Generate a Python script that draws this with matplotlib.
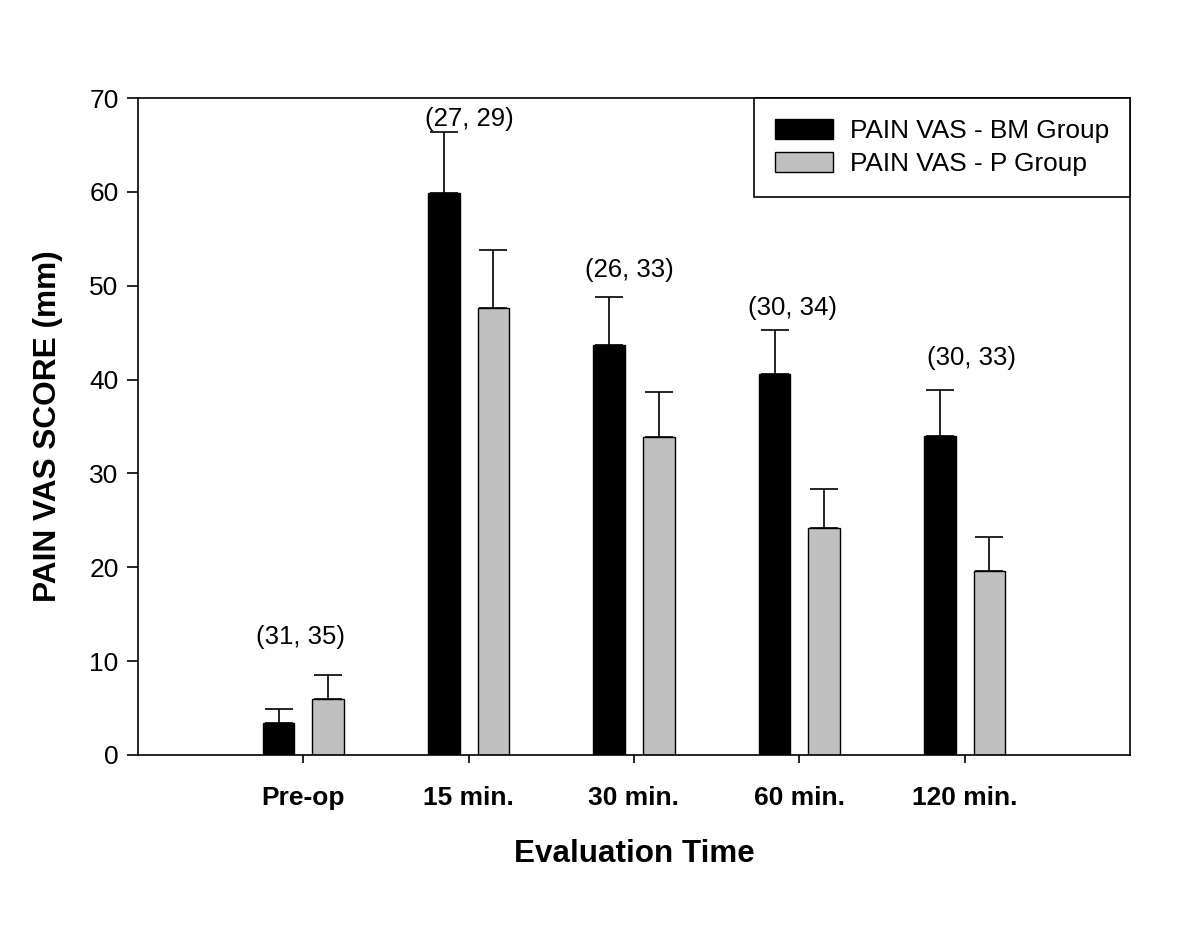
import matplotlib
matplotlib.use("Agg")
import matplotlib.pyplot as plt
import numpy as np

plt.rcParams['font.family'] = ['Liberation Sans', 'DejaVu Sans']

times = ["Pre-op", "15 min.", "30 min.", "60 min.", "120 min."]
bm_mean = [3.4, 59.9, 43.7, 40.6, 34.0]
bm_err = [1.5, 6.5, 5.1, 4.7, 4.9]
p_mean = [6.0, 47.6, 33.9, 24.2, 19.6]
p_err = [2.5, 6.2, 4.8, 4.1, 3.6]
n_labels = ["(31, 35)", "(27, 29)", "(26, 33)", "(30, 34)", "(30, 33)"]
label_x = [0.98, 2.006, 2.97, 3.96, 5.04]
label_y = [12.6, 67.8, 51.7, 47.6, 42.3]

fig = plt.figure(figsize=(11.96, 9.25), dpi=100)
ax = fig.add_axes([0.1154, 0.1838, 0.8294, 0.7102])

x = np.arange(1, len(times) + 1)
w = 0.19
off = 0.15
ax.bar(x - off, bm_mean, w, color="black", edgecolor="black", linewidth=1,
       label="PAIN VAS - BM Group", zorder=2)
ax.bar(x + off, p_mean, w, color="#c0c0c0", edgecolor="black", linewidth=1,
       label="PAIN VAS - P Group", zorder=2)
ax.errorbar(x - off, bm_mean, yerr=[np.zeros(5), bm_err], fmt="none",
            ecolor="black", elinewidth=1.2, capsize=10, capthick=1.2, zorder=1)
ax.errorbar(x + off, p_mean, yerr=[np.zeros(5), p_err], fmt="none",
            ecolor="black", elinewidth=1.2, capsize=10, capthick=1.2, zorder=1)

for lx, ly, t in zip(label_x, label_y, n_labels):
    ax.text(lx, ly, t, ha="center", va="center", fontsize=18.5)

ax.set_xlim(0, 6)
ax.set_ylim(0, 70)
ax.set_yticks(range(0, 71, 10))
ax.set_xticks(x)
ax.set_xticklabels(times, fontsize=19, fontweight="bold")
ax.tick_params(axis="y", labelsize=19, direction="out", length=8, width=1.2, pad=6)
ax.tick_params(axis="x", direction="out", length=6, width=1.2, pad=16)
for s in ax.spines.values():
    s.set_linewidth(1.2)

ax.set_ylabel("PAIN VAS SCORE (mm)", fontsize=22.8, fontweight="bold", labelpad=19)
ax.set_xlabel("Evaluation Time", fontsize=22.6, fontweight="bold", labelpad=21)

leg = ax.legend(loc="upper right", borderaxespad=0, fancybox=False,
                edgecolor="black", framealpha=1, fontsize=18.9,
                handlelength=2.2, handleheight=0.8, borderpad=0.8,
                labelspacing=0.32, handletextpad=0.65)
leg.get_frame().set_linewidth(1.2)

fig.savefig("out.png", dpi=100)
